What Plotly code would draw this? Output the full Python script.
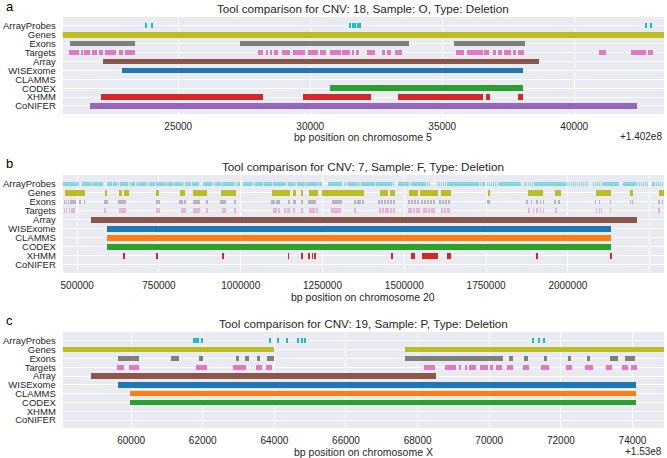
import plotly.graph_objects as go

# Tool comparison for three CNVs: intervals are (start, end) in bp,
# panels a and c are relative to an offset shown at the right of the axis.
TRACKS = ['ArrayProbes', 'Genes', 'Exons', 'Targets', 'Array',
          'WISExome', 'CLAMMS', 'CODEX', 'XHMM', 'CoNIFER']
COLORS = {'ArrayProbes': '#17becf', 'Genes': '#bcbd22', 'Exons': '#7f7f7f',
          'Targets': '#e377c2', 'Array': '#8c564b', 'WISExome': '#1f77b4',
          'CLAMMS': '#ff7f0e', 'CODEX': '#2ca02c', 'XHMM': '#d62728',
          'CoNIFER': '#9467bd'}

# ---- panel a: CNV 18, chromosome 5, offset +1.402e8 ----
a_probes = [23740, 23967, 31488, 31576, 31677, 31778, 31840, 42677, 42891]
a_genes = [(20000, 44000)]
a_exons = [(20905, 23337), (27331, 33718), (35457, 38141)]
a_targets = [(20842, 21245), (21346, 21384), (21434, 21661), (21724, 21913),
             (21976, 22140), (22228, 22644), (22732, 22896), (22984, 23337),
             (27999, 28213), (28314, 28402), (28478, 28553), (28604, 28780),
             (28906, 29221), (29347, 29788), (29914, 30292), (30380, 30607),
             (30733, 31148), (31211, 31488), (31576, 31652), (31715, 31828),
             (32156, 32458), (32723, 32811), (32912, 33063), (33189, 33466),
             (35520, 35835), (35936, 36528), (36591, 36780), (36906, 37032),
             (37095, 37246), (37322, 37599), (37675, 37788), (37876, 38078),
             (40938, 41190), (42135, 42702), (42790, 42992)]
a_array = [(22127, 38645)]
a_wisexome = [(22858, 38065)]
a_clamms = []
a_codex = [(30733, 38065)]
a_xhmm = [(22077, 28188), (29725, 32282), (33315, 36528), (36654, 36793),
          (37851, 38065)]
a_conifer = [(21661, 42362)]

# ---- panel b: CNV 7, chromosome 20 (positions in kb) ----
b_probes_kb = [458, 463, 468, 474, 479, 483, 489, 494, 499, 503,
               516, 522, 527, 531, 537, 542, 548, 553, 559, 564, 569, 575,
               592, 598, 603, 609, 614, 619, 625, 631, 636, 641, 647, 652,
               658, 664, 669, 674, 680, 686, 691, 697, 702, 707, 713, 719,
               724, 730, 735, 741, 746, 752, 757, 763, 768, 774, 779, 785,
               790, 796, 801, 807, 812, 818, 823, 829, 834, 840, 845, 851,
               856, 862, 868,
               887, 893, 898, 904, 909, 915, 921, 926, 932, 937, 943, 948,
               954, 960, 965, 971, 976, 982, 988, 993,
               1009, 1015, 1020, 1026, 1032, 1037, 1043, 1048, 1054, 1060,
               1065, 1071, 1076, 1082, 1088, 1093, 1099, 1104, 1110, 1116,
               1121, 1127, 1132, 1138, 1144, 1149, 1155, 1160, 1166, 1172,
               1177, 1183, 1188, 1194, 1200, 1205, 1211, 1216, 1222, 1228,
               1233, 1239, 1244,
               1269, 1275, 1281, 1287, 1293, 1299, 1305,
               1316, 1322, 1328, 1333, 1339, 1345, 1350, 1356, 1362, 1368,
               1373, 1379, 1385, 1391, 1396, 1402, 1408, 1414, 1419, 1425,
               1431, 1437, 1442, 1448, 1454, 1460, 1465,
               1483, 1489, 1495, 1501, 1506, 1512, 1518, 1524, 1529, 1535,
               1541, 1547, 1552, 1558, 1564, 1570, 1575,
               1600, 1606, 1612, 1618, 1624, 1630, 1636, 1642, 1648, 1654,
               1660, 1666, 1672, 1678, 1684, 1690, 1696, 1702, 1708, 1714,
               1720, 1726, 1732, 1738, 1743,
               1753, 1759, 1765, 1771, 1777, 1783, 1789, 1795, 1801, 1807,
               1813, 1819, 1825, 1831, 1837, 1843, 1849, 1853,
               1866, 1872, 1878, 1884, 1890, 1896, 1902, 1908, 1914, 1920,
               1926, 1932, 1938, 1944, 1950, 1956, 1962, 1968, 1974, 1980,
               1986, 1992, 1998, 2004, 2010, 2016, 2022, 2028, 2034, 2040,
               2046, 2052, 2058,
               2077, 2083, 2089, 2095, 2101, 2107, 2113, 2119, 2125, 2131,
               2137, 2143, 2149, 2153,
               2170, 2176, 2182, 2188, 2194, 2200, 2206, 2212, 2218, 2224,
               2230, 2236, 2242,
               2258, 2264, 2270, 2276, 2282, 2288, 2294]
b_genes_kb = [(463, 522), (584, 591), (626, 635), (642, 657), (740, 749),
              (814, 828), (853, 897), (939, 984), (1094, 1149), (1161, 1167),
              (1185, 1191), (1207, 1236), (1247, 1375), (1425, 1449),
              (1456, 1472), (1515, 1540), (1546, 1602), (1611, 1641),
              (1756, 1762), (1877, 1924), (1961, 1979), (2086, 2132),
              (2189, 2198), (2279, 2300)]
b_exons_kb = [460, 466, 472, 479, 485, 491, 506, 521, 583, 589, 626, 632, 635,
              641, 644, 742, 748, 812, 818, 828, 855, 858, 864, 870, 895, 938,
              944, 950, 981, 1094, 1100, 1109, 1115, 1146, 1161, 1164, 1186,
              1207, 1213, 1219, 1225, 1281, 1284, 1287, 1290, 1293, 1296, 1299,
              1302, 1305, 1348, 1357, 1363, 1372, 1421, 1431, 1440, 1449, 1458,
              1467, 1513, 1522, 1532, 1541, 1553, 1562, 1571, 1581, 1590, 1608,
              1617, 1626, 1636, 1755, 1758, 1874, 1887, 1905, 1915, 1924, 1960,
              1972, 2083, 2095, 2129, 2190, 2196, 2278, 2288]
b_targets_kb = [460, 466, 475, 482, 488, 583, 629, 635, 641, 644, 742, 748,
                818, 821, 828, 855, 861, 864, 870, 895, 944, 950, 981, 1100,
                1106, 1115, 1134, 1143, 1146, 1161, 1186, 1210, 1216, 1222,
                1232, 1277, 1284, 1290, 1296, 1302, 1348, 1424, 1434, 1443,
                1449, 1458, 1467, 1513, 1519, 1529, 1538, 1544, 1559, 1565,
                1574, 1584, 1590, 1614, 1623, 1630, 1636, 1880, 1893, 1905,
                1915, 1924, 1963, 2086, 2095, 2101, 2129, 2278]
b_array_kb = [(541, 2211)]
b_wisexome_kb = [(591, 2132)]
b_clamms_kb = [(589, 2132)]
b_codex_kb = [(589, 2132)]
b_xhmm_kb = [(642, 644), (742, 744), (941, 948), (1144, 1146), (1185, 1187),
             (1208, 1210), (1218, 1220), (1226, 1229), (1460, 1462),
             (1519, 1533), (1553, 1602), (1630, 1641), (1904, 1907),
             (2131, 2133)]
b_conifer_kb = []

# ---- panel c: CNV 19, chromosome X, offset +1.53e8 ----
c_probes = [61730, 61767, 61814, 61860, 61953, 63860, 64092, 64325, 64631,
            64762, 64836, 71208, 71384, 71522]
c_genes = [(57000, 63980), (67637, 76000)]
c_exons = [(59628, 60205), (61116, 61321), (61888, 62009), (62911, 63004),
           (63181, 63274), (63516, 63600), (63786, 63980), (67637, 70366),
           (70560, 70671), (70967, 71069), (71532, 71596), (72198, 72290),
           (72734, 72817), (73354, 73594), (73798, 74057)]
c_targets = [(59609, 59786), (59935, 60205), (61795, 62102), (62837, 63190),
             (63469, 63655), (63748, 63925), (68174, 68479), (68757, 69080),
             (69145, 69219), (69311, 69376), (69423, 69626), (69728, 69959),
             (70024, 70089), (70181, 70348), (70486, 70653), (70931, 71116),
             (71439, 71661), (72133, 72309), (72679, 72882), (73261, 73428),
             (73706, 73881), (73955, 74112)]
c_array = [(58865, 68498)]
c_wisexome = [(59628, 74094)]
c_clamms = [(59954, 74094)]
c_codex = [(59954, 74094)]
c_xhmm = []
c_conifer = []


def kb(iv):
    return [(s * 1000, e * 1000) for s, e in iv]


panels = [
    dict(title='Tool comparison for CNV: 18, Sample: O, Type: Deletion',
         xlabel='bp position on chromosome 5', offset='+1.402e8', letter='a',
         xrange=[20628, 43400], dtick=5000, probe_w=40, tick_w=40, thin=1.0,
         probes=a_probes, ticks={},
         spans={'Genes': a_genes, 'Exons': a_exons, 'Targets': a_targets,
                'Array': a_array, 'WISExome': a_wisexome, 'CLAMMS': a_clamms,
                'CODEX': a_codex, 'XHMM': a_xhmm, 'CoNIFER': a_conifer},
         top=17, bottom=114, title_y=9, tick_y=126, label_y=137),
    dict(title='Tool comparison for CNV: 7, Sample: F, Type: Deletion',
         xlabel='bp position on chromosome 20', offset='', letter='b',
         xrange=[456000, 2294000], dtick=250000, probe_w=1800, tick_w=2000,
         thin=0.5,
         probes=[p * 1000 for p in b_probes_kb],
         ticks={'Exons': [p * 1000 for p in b_exons_kb],
                'Targets': [p * 1000 for p in b_targets_kb]},
         spans={'Genes': kb(b_genes_kb), 'Array': kb(b_array_kb),
                'WISExome': kb(b_wisexome_kb), 'CLAMMS': kb(b_clamms_kb),
                'CODEX': kb(b_codex_kb), 'XHMM': kb(b_xhmm_kb),
                'CoNIFER': kb(b_conifer_kb)},
         top=175, bottom=273, title_y=166, tick_y=285, label_y=297),
    dict(title='Tool comparison for CNV: 19, Sample: P, Type: Deletion',
         xlabel='bp position on chromosome X', offset='+1.53e8', letter='c',
         xrange=[58093, 74880], dtick=2000, probe_w=35, tick_w=35, thin=1.0,
         probes=c_probes, ticks={},
         spans={'Genes': c_genes, 'Exons': c_exons, 'Targets': c_targets,
                'Array': c_array, 'WISExome': c_wisexome, 'CLAMMS': c_clamms,
                'CODEX': c_codex, 'XHMM': c_xhmm, 'CoNIFER': c_conifer},
         top=332, bottom=428, title_y=323, tick_y=439, label_y=452),
]

W, H = 667, 458
X0, X1 = 61, 664
FONT = 'Liberation Sans, Arial, sans-serif'
INK = '#262626'

fig = go.Figure()
annotations = []
layout = {}

for i, p in enumerate(panels):
    n = '' if i == 0 else str(i + 1)
    xa, ya = 'x' + n, 'y' + n

    def bar(track, starts, lengths, width=0.62, opacity=1.0):
        if not starts:
            return
        fig.add_trace(go.Bar(orientation='h', y=[track] * len(starts),
                             base=starts, x=lengths, width=width,
                             opacity=opacity,
                             marker=dict(color=COLORS[track], line=dict(width=0)),
                             xaxis=xa, yaxis=ya, showlegend=False,
                             hoverinfo='skip'))

    # probes (thin ticks)
    bar('ArrayProbes', p['probes'], [p['probe_w']] * len(p['probes']), 0.55,
        p['thin'])
    for track in TRACKS[1:]:
        if track in p['ticks']:
            pts = p['ticks'][track]
            bar(track, pts, [p['tick_w']] * len(pts), 0.55, p['thin'])
        iv = p['spans'].get(track, [])
        bar(track, [s for s, e in iv], [e - s for s, e in iv])

    layout['xaxis' + n] = dict(
        domain=[X0 / W, X1 / W], anchor=ya, range=p['xrange'],
        dtick=p['dtick'], tick0=0, tickformat='d', showgrid=True,
        gridcolor='white', gridwidth=1.3, zeroline=False, showline=False,
        ticks='', ticklabelstandoff=5,
        tickfont=dict(size=10, color=INK, family=FONT))
    layout['yaxis' + n] = dict(
        domain=[1 - p['bottom'] / H, 1 - p['top'] / H], anchor=xa,
        type='category', categoryarray=TRACKS, categoryorder='array',
        tickmode='array', tickvals=TRACKS, ticktext=TRACKS,
        range=[9.9, -1.0], showgrid=True, gridcolor='white', gridwidth=1,
        zeroline=False, showline=False, ticks='', ticklabelstandoff=6,
        tickfont=dict(size=9.5, color=INK, family=FONT))

    annotations.append(dict(text=p['title'], x=(X0 + X1) / 2 / W,
                            y=1 - p['title_y'] / H, xref='paper', yref='paper',
                            xanchor='center', yanchor='middle', showarrow=False,
                            font=dict(size=11.7, color=INK, family=FONT)))
    annotations.append(dict(text=p['xlabel'], x=(X0 + X1) / 2 / W,
                            y=1 - p['label_y'] / H, xref='paper', yref='paper',
                            xanchor='center', yanchor='middle', showarrow=False,
                            font=dict(size=10.5, color=INK, family=FONT)))
    annotations.append(dict(text=p['letter'], x=2 / W,
                            y=1 - (p['title_y'] - 3) / H, xref='paper',
                            yref='paper', xanchor='left', yanchor='middle',
                            showarrow=False,
                            font=dict(size=13, color='black', family=FONT)))
    if p['offset']:
        annotations.append(dict(text=p['offset'], x=X1 / W,
                                y=1 - (p['label_y'] - 1) / H, xref='paper',
                                yref='paper', xanchor='right', yanchor='middle',
                                showarrow=False,
                                font=dict(size=10, color=INK, family=FONT)))

fig.update_layout(width=W, height=H, margin=dict(l=0, r=0, t=0, b=0),
                  paper_bgcolor='white', plot_bgcolor='#EAEAF2',
                  barmode='overlay', bargap=0, showlegend=False,
                  annotations=annotations, **layout)

# drop the browser's default 8px body margin so the figure fills the window
fig.write_html('out.html', config={'displayModeBar': False},
               post_script="document.body.style.margin='0';")
